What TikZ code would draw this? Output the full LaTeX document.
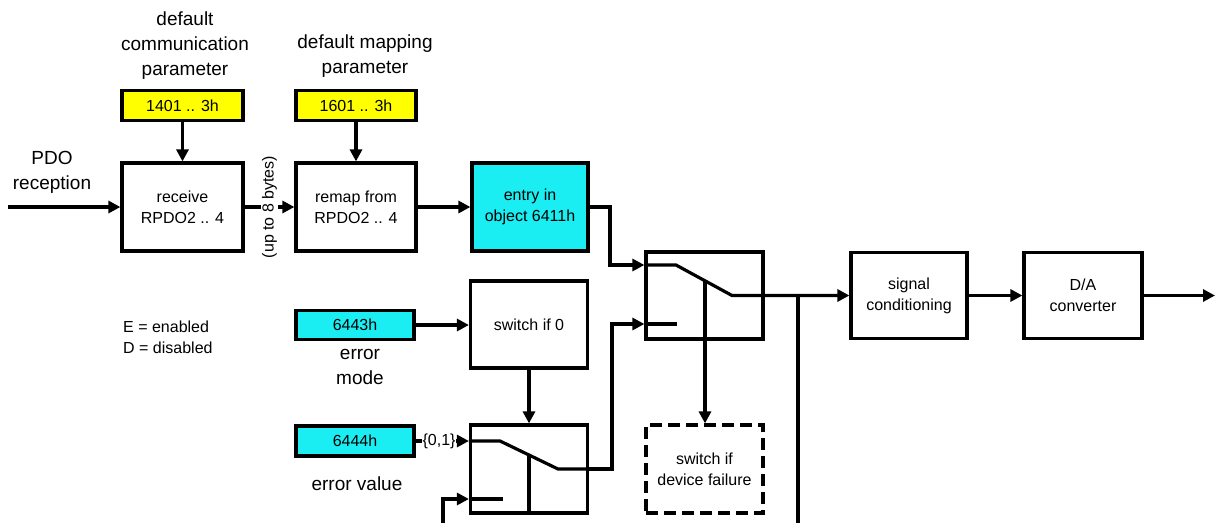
\documentclass[tikz,border=0pt]{standalone}
\usepackage{fontspec}
\setmainfont{Liberation Sans}
\usetikzlibrary{arrows.meta}
\definecolor{cyanbox}{RGB}{26,238,242}
\definecolor{yellowbox}{RGB}{255,255,0}
\newcommand\bxfont{\fontsize{16}{21}\selectfont}
\newcommand\lbfont{\fontsize{19}{25}\selectfont}
\begin{document}
\begin{tikzpicture}[x=1pt,y=-1pt,
  ln/.style={line width=3.2pt},
  arr/.style={line width=3.2pt,-{Triangle[length=12pt,width=12pt]}},
  blk/.style={draw,line width=3.2pt,fill=white,align=center,font=\bxfont,inner sep=0pt},
  param/.style={blk,minimum height=30pt},
  lbl/.style={align=center,font=\lbfont,inner sep=0pt}]
\useasboundingbox (0,0) rectangle (1221,523);
% boxes
\node[param,fill=yellowbox,minimum width=121pt] (cp) at (182.5,105.5) {1401 .. 3h};
\node[blk,minimum width=121pt,minimum height=88pt] (rx) at (182.5,207) {receive\\RPDO2 .. 4};
\node[param,fill=yellowbox,minimum width=120pt] (mp) at (356,105.5) {1601 .. 3h};
\node[blk,minimum width=120pt,minimum height=88pt] (rm) at (356,207) {remap from\\RPDO2 .. 4};
\node[blk,fill=cyanbox,minimum width=116pt,minimum height=88pt] (en) at (530,207) {entry in\\object 6411h};
\node[blk,minimum width=117pt,minimum height=87pt] (sw) at (704.5,295.5) {};
\node[blk,minimum width=116pt,minimum height=86pt] (sc) at (909,295.5) {signal\\conditioning};
\node[blk,minimum width=118pt,minimum height=86pt] (da) at (1083,295.5) {D/A\\converter};
\node[param,fill=cyanbox,minimum width=118pt,minimum height=29pt] (e43) at (355,325) {6443h};
\node[blk,minimum width=117pt,minimum height=87pt] (s0) at (529,324.5) {switch if 0};
\node[param,fill=cyanbox,minimum width=118pt] (e44) at (355,441) {6444h};
\node[blk,minimum width=117pt,minimum height=88pt] (bs) at (529,469) {};
\node[blk,dash pattern=on 12pt off 6pt,minimum width=117pt,minimum height=88pt] (df) at (704.5,469) {switch if\\device failure};
% labels
\node[lbl] (l1) at (185,46) {default\\communication\\parameter};
\node[lbl] (l2) at (365,56) {default mapping\\parameter};
\node[lbl] (l3) at (52,172) {PDO\\reception};
\node[lbl] (l4) at (360,367) {error\\mode};
\node[lbl] (l5) at (357,484) {error value};
\node[anchor=west,align=left,font=\bxfont,inner sep=0pt] (l6) at (123,337) {E = enabled\\D = disabled};
% coordinates
\coordinate (in) at (8,207);
\coordinate (a1) at (610,265);
\coordinate (c1) at (676,265);
\coordinate (c2) at (732,295.5);
\coordinate (t1) at (705,281);
\coordinate (c3) at (677,324);
\coordinate (b2) at (612,324);
\coordinate (d1) at (500,441);
\coordinate (d2) at (558,469);
\coordinate (d3) at (612,469);
\coordinate (t2) at (529,455);
\coordinate (e1) at (443,523);
\coordinate (e2) at (443,499);
\coordinate (e3) at (503,499);
\coordinate (j) at (798,295.5);
\coordinate (jb) at (798,523);
\coordinate (out) at (1215,295.5);
% connectors
\draw[arr] (in) -- (rx.west);
\draw[arr] (cp.south) -- (rx.north);
\draw[arr] (rx.east) -- node[fill=white,rotate=90,font=\bxfont,inner sep=1pt]{(up to 8 bytes)} (rm.west);
\draw[arr] (mp.south) -- (rm.north);
\draw[arr] (rm.east) -- (en.west);
\draw[arr] (en.east) -| (a1) -- (sw.west |- a1);
\draw[arr] (sw.west |- c1) -- (c1) -- (c2) -- (sc.west);
\draw[arr] (t1) -- (t1 |- df.north);
\draw[ln] (j) -- (jb);
\draw[arr] (sc.east) -- (da.west);
\draw[arr] (da.east) -- (out);
\draw[arr] (e43.east) -- (s0.west |- e43.east);
\draw[arr] (s0.south) -- (bs.north);
\draw[arr] (e44.east) -- node[fill=white,inner sep=0.5pt,pos=0.44,font=\bxfont]{\{0,1\}} (bs.west |- e44.east);
\draw[ln] (bs.west |- d1) -- (d1) -- (d2) -- (bs.east |- d2);
\draw[arr] (bs.east |- d2) -- (d3) -- (b2) -- (sw.west |- b2);
\draw[ln] (sw.west |- b2) -- (c3);
\draw[ln] (t2) -- (t2 |- bs.south);
\draw[arr] (e1) -- (e2) -- (bs.west |- e2);
\draw[ln] (bs.west |- e2) -- (e3);
\end{tikzpicture}
\end{document}
